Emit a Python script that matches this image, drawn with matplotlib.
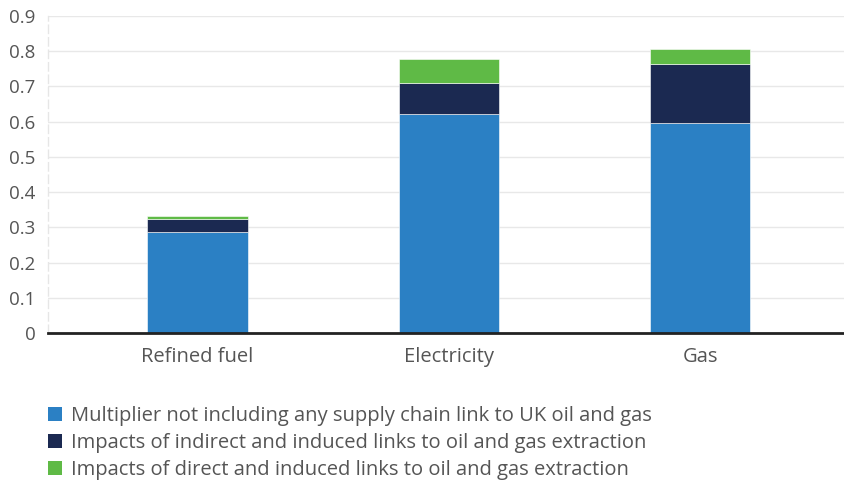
import matplotlib
matplotlib.use("Agg")
import matplotlib.pyplot as plt
from matplotlib.patches import Patch
import numpy as np

categories = ["Refined fuel", "Electricity", "Gas"]
base_multiplier = [0.287, 0.622, 0.596]
indirect_induced = [0.037, 0.089, 0.168]
direct_induced = [0.008, 0.067, 0.042]

series_labels = [
    "Multiplier not including any supply chain link to UK oil and gas",
    "Impacts of indirect and induced links to oil and gas extraction",
    "Impacts of direct and induced links to oil and gas extraction",
]
colors = ["#2b80c4", "#1b2951", "#5fba46"]
yticks = [0, 0.1, 0.2, 0.3, 0.4, 0.5, 0.6, 0.7, 0.8, 0.9]
ytick_labels = ["0", "0.1", "0.2", "0.3", "0.4", "0.5", "0.6", "0.7", "0.8", "0.9"]

plt.rcParams["font.family"] = ["Open Sans", "DejaVu Sans"]
text_color = "#555555"

W, H = 844, 482
fig = plt.figure(figsize=(W / 100, H / 100), dpi=100)
left, right, bottom, top = 48, 844, 333, 16
ax = fig.add_axes([left / W, (H - bottom) / H, (right - left) / W, (bottom - top) / H])

x = np.arange(len(categories))
width = 0.40
stack = np.zeros(len(categories))
for vals, col in zip([base_multiplier, indirect_induced, direct_induced], colors):
    ax.bar(x, vals, width, bottom=stack, color=col, edgecolor="white",
           linewidth=0.4, zorder=3)
    stack += np.array(vals)

ax.set_xlim(-0.595, 2.573)
ax.set_ylim(0, 0.9)
ax.set_yticks(yticks)
ax.set_yticklabels(ytick_labels)
ax.set_xticks(x)
ax.set_xticklabels(categories)
ax.tick_params(axis="both", length=0, colors=text_color)
ax.tick_params(axis="y", pad=9, labelsize=13.5)
ax.tick_params(axis="x", pad=10, labelsize=14.5)

ax.grid(axis="y", color="#e8e8e8", linewidth=1, zorder=0)
for s in ["top", "right"]:
    ax.spines[s].set_visible(False)
ax.spines["left"].set_color("#e6e6e6")
ax.spines["left"].set_linestyle((0, (6, 3)))
ax.spines["left"].set_linewidth(1)
ax.spines["bottom"].set_color("#222222")
ax.spines["bottom"].set_linewidth(2)
ax.spines["bottom"].set_zorder(5)

handles = [Patch(facecolor=c, edgecolor="none") for c in colors]
fig.legend(handles, series_labels, loc="upper left",
           bbox_to_anchor=(48 / W, (H - 406) / H), frameon=False,
           fontsize=14.5, labelcolor=text_color, handlelength=0.7,
           handleheight=0.7, handletextpad=0.45, labelspacing=0.34,
           borderaxespad=0, borderpad=0)

fig.savefig("out.png", dpi=100)
